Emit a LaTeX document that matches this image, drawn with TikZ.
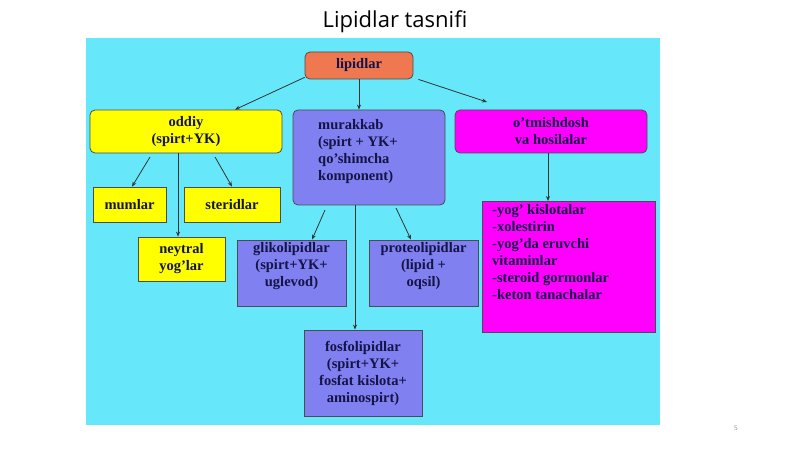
\documentclass[tikz,border=0pt]{standalone}
\usepackage{fontspec}
\setmainfont{Liberation Serif}
\newfontfamily\titlefont{Open Sans}
\usetikzlibrary{arrows.meta}
\definecolor{bg}{RGB}{102,232,250}
\definecolor{yel}{RGB}{255,255,0}
\definecolor{blu}{RGB}{128,128,240}
\definecolor{mag}{RGB}{255,0,255}
\definecolor{ora}{RGB}{240,120,80}
\definecolor{txt}{RGB}{20,20,70}
\begin{document}
\begin{tikzpicture}[x=1pt,y=-1pt,
 box/.style={draw=black!70,line width=0.8pt,font=\bfseries\fontsize{14.5}{17}\selectfont,text=txt,align=center,inner sep=0pt},
 rbox/.style={box,rounded corners=5pt},
 lbl/.style={font=\bfseries\fontsize{14.5}{17}\selectfont,text=txt,inner sep=0pt},
 arr/.style={-{Stealth[length=5pt,width=4pt]},line width=0.8pt,black!80}]
\useasboundingbox (0,0) rectangle (800,449);
\fill[white] (0,0) rectangle (800,449);
\fill[bg] (86,38) rectangle (660,425);
\node[font=\titlefont\fontsize{22}{24}\selectfont] (title) at (395,22) {Lipidlar tasnifi};
\node[font=\sffamily\fontsize{7}{8}\selectfont,text=black!40] (pg) at (736,428) {5};
\node[rbox,fill=ora,minimum width=108pt,minimum height=27pt] (lip) at (359,65.5) {lipidlar};
\node[rbox,fill=yel,minimum width=192pt,minimum height=43pt] (odd) at (186,131.5) {oddiy\\(spirt+YK)};
\node[rbox,fill=blu,minimum width=152pt,minimum height=95pt] (mur) at (369,157.5) {};
\node[lbl,align=left,anchor=north west] (murt) at (318,119) {murakkab\\(spirt + YK+\\qo'shimcha\\komponent)};
\node[rbox,fill=mag,minimum width=192pt,minimum height=43pt] (otm) at (551,131.5) {o'tmishdosh\\va hosilalar};
\node[box,fill=yel,minimum width=73pt,minimum height=35pt] (mum) at (129.5,204.5) {mumlar};
\node[box,fill=yel,minimum width=96pt,minimum height=35pt] (ste) at (232,204.5) {steridlar};
\node[box,fill=yel,minimum width=87pt,minimum height=44pt] (ney) at (181.5,259) {neytral\\yog'lar};
\node[box,fill=blu,minimum width=109pt,minimum height=66pt] (gli) at (291.5,273) {};
\node[lbl,align=center,anchor=north] (glit) at (291.5,242) {glikolipidlar\\(spirt+YK+\\uglevod)};
\node[box,fill=blu,minimum width=109pt,minimum height=66pt] (pro) at (423.5,273) {};
\node[lbl,align=center,anchor=north] (prot) at (423.5,242) {proteolipidlar\\(lipid +\\oqsil)};
\node[box,fill=blu,minimum width=118pt,minimum height=86pt] (fos) at (363,373) {fosfolipidlar\\(spirt+YK+\\fosfat kislota+\\aminospirt)};
\node[box,fill=mag,minimum width=173pt,minimum height=131pt,anchor=north west] (lst) at (482,201) {};
\node[lbl,align=left,anchor=north west] (lstt) at (492,204) {-yog' kislotalar\\-xolestirin\\-yog'da eruvchi\\vitaminlar\\-steroid gormonlar\\-keton tanachalar};
\draw[arr] (lip.south west) ++(0,-2) -- (odd.north -| 235,0) ;
\draw[arr] (lip.south) -- (mur.north -| lip.south);
\draw[arr] (lip.south east) ++(5,0) -- (487,102);
\draw[arr] (odd.south -| 178,0) -- (ney.north -| 178,0);
\draw[arr] (150,157) -- (mum.north -| 132,0);
\draw[arr] (215,157) -- (ste.north -| 232,0);
\draw[arr] (325,210) -- (gli.north -| 312,0);
\draw[arr] (396,208) -- (pro.north -| 411,0);
\draw[arr] (mur.south -| 355,0) -- (fos.north -| 355,0);
\draw[arr] (otm.south -| 548,0) -- (lst.north -| 548,0);
\end{tikzpicture}
\end{document}
